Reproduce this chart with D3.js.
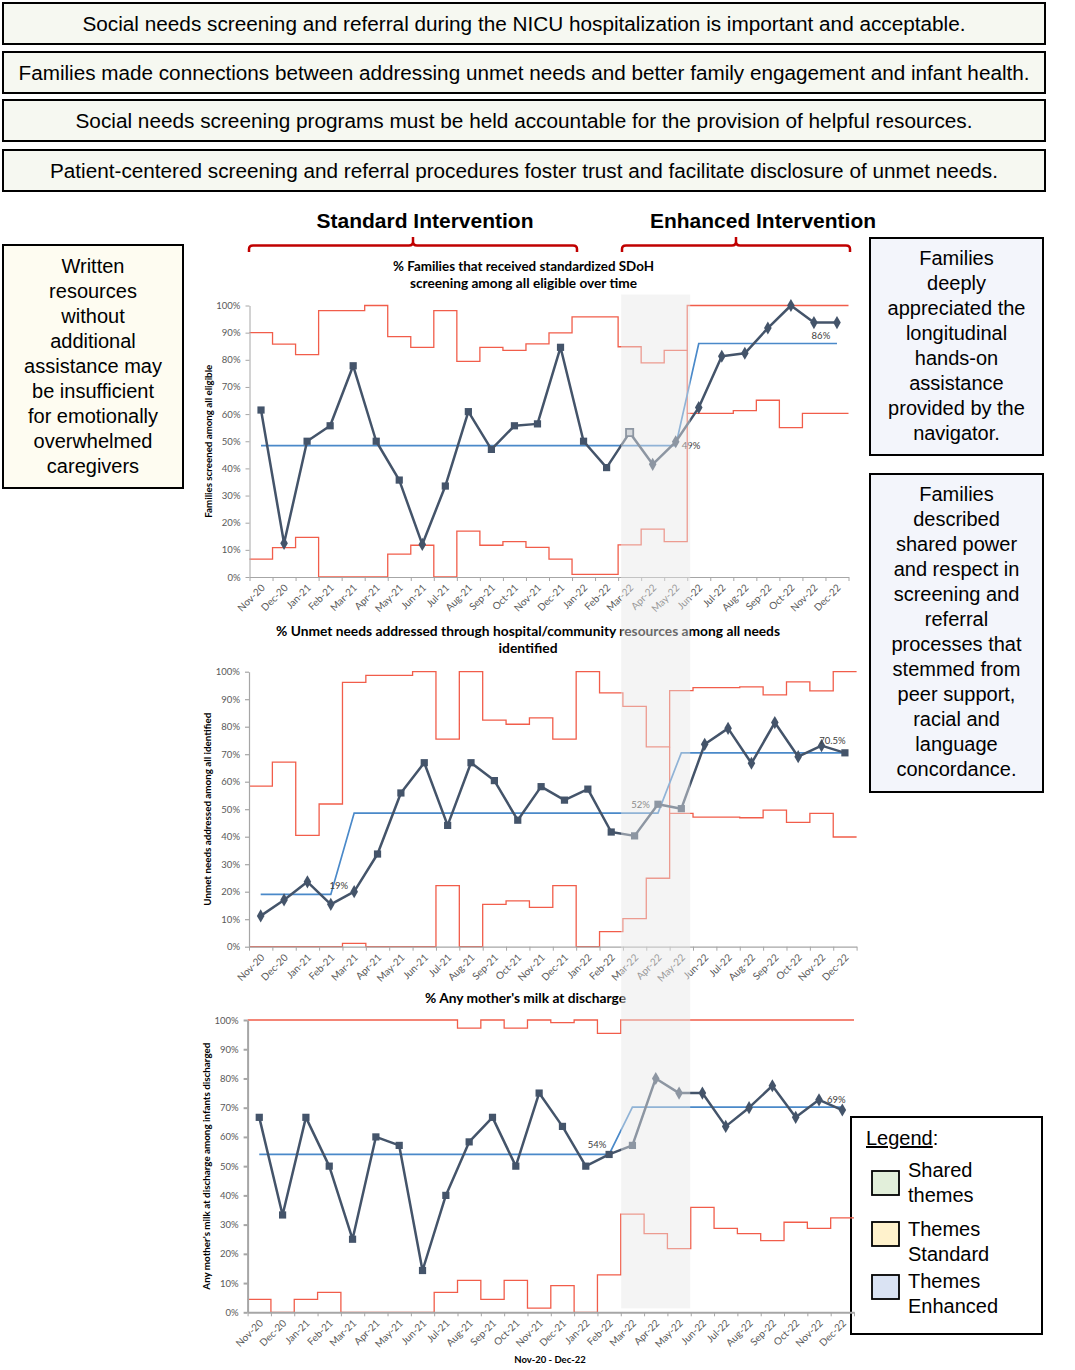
<!DOCTYPE html>
<html><head><meta charset="utf-8">
<script src="https://cdn.jsdelivr.net/npm/d3@7"></script>
<style>body{margin:0;background:#fff}</style>
</head><body>
<svg id="fig" width="1075" height="1370" xmlns="http://www.w3.org/2000/svg"></svg>
<script>
// ---------------- DATA ----------------
const months = ["Nov-20","Dec-20","Jan-21","Feb-21","Mar-21","Apr-21","May-21","Jun-21","Jul-21","Aug-21","Sep-21","Oct-21","Nov-21","Dec-21","Jan-22","Feb-22","Mar-22","Apr-22","May-22","Jun-22","Jul-22","Aug-22","Sep-22","Oct-22","Nov-22","Dec-22"];
const yTicks = [0,10,20,30,40,50,60,70,80,90,100];
const shadedMonths = ["Mar-22","Apr-22","May-22"];

// Chart 1: % families screened
const screenedTitle = ["% Families that received standardized SDoH","screening among all eligible over time"];
const screenedAxisTitle = "Families screened among all eligible";
const screenedValues = [61.5,12.4,50,55.7,77.8,50,35.7,12,33.5,60.9,47,55.7,56.4,84.6,50,40.3,53.2,41.5,49.8,62.4,81.3,82.4,91.7,100,93.7,93.7];
const screenedMarkers = ["sq","di","sq","sq","sq","sq","sq","di","sq","sq","sq","sq","sq","sq","sq","sq","open","di","di","di","di","di","di","di","di","di"];
const screenedUCL = [90,85.8,81.9,98.1,98.1,100,88.5,84.6,98.1,79.4,84.6,83.5,85.9,89.9,95.8,95.8,84.8,78.9,83.5,100,100,100,100,100,100,100];
const screenedLCL = [6.6,10.8,14.6,0,0,0,8.4,11.7,0,16.9,11.7,13.0,10.9,6.6,1.0,1.0,11.8,17.6,13.0,60.3,60.3,61.3,65.1,55.0,60.3,60.3];
const screenedCenter = [48.4,48.4,48.4,48.4,48.4,48.4,48.4,48.4,48.4,48.4,48.4,48.4,48.4,48.4,48.4,48.4,48.4,48.4,48.4,86,86,86,86,86,86,86];
const screenedLabels = [{text:"49%", month:"May-22", value:48.4},{text:"86%", month:"Nov-22", value:86}];
const screenedBridge = ["Jun-22"];

// Chart 2: % unmet needs addressed
const unmetTitle = ["% Unmet needs addressed through hospital/community resources among all needs","identified"];
const unmetAxisTitle = "Unmet needs addressed among all identified";
const unmetValues = [11.2,17.0,23.6,15.4,20.0,33.7,55.9,66.9,44.1,66.9,60.4,46.0,58.2,53.3,57.3,41.7,40.3,51.8,50.2,73.6,79.4,66.7,81.5,69.1,73.1,70.5];
const unmetMarkers = ["di","di","di","di","di","sq","sq","sq","sq","sq","sq","sq","sq","sq","sq","sq","sq","sq","sq","di","di","di","di","di","di","sq"];
const unmetUCL = [58.4,67.1,40.5,51.9,96.1,98.7,98.7,100,75.5,100,82.4,80.9,83.2,75.5,100,92.3,87.4,72.7,93.1,94.2,94.2,94.5,91.6,96.3,93.0,100];
const unmetLCL = [0,0,0,0,1.2,0,0,0,22.2,0,15.4,16.7,14.3,22.2,0,5.5,10.2,24.9,48.5,47.1,47.1,46.9,49.7,45.2,48.5,39.9];
const unmetCenter = [19,19,19,19,48.6,48.6,48.6,48.6,48.6,48.6,48.6,48.6,48.6,48.6,48.6,48.6,48.6,48.6,70.5,70.5,70.5,70.5,70.5,70.5,70.5,70.5];
const unmetLabels = [{text:"19%", month:"Feb-21", value:19},{text:"52%", month:"Apr-22", value:52},{text:"70.5%", month:"Nov-22", value:70.5}];
const unmetBridge = ["May-22"];

// Chart 3: % any mother's milk
const milkTitle = ["% Any mother's milk at discharge"];
const milkAxisTitle = "Any mother's milk at discharge among infants discharged";
const milkValues = [66.7,33.3,66.7,50,25,60,57.1,14.3,40,58.3,66.7,50,75,63.6,50,54,57.1,80,75,75,63.6,70,77.5,66.7,72.7,69.2];
const milkMarkers = ["sq","sq","sq","sq","sq","sq","sq","sq","sq","sq","sq","sq","sq","sq","sq","sq","sq","di","di","di","di","di","di","di","di","di"];
const milkUCL = [100,100,100,100,100,100,100,100,100,97.2,100,97.2,100,99.1,100,95.4,100,100,100,100,100,100,100,100,100,100];
const milkLCL = [4.4,0,4.4,6.8,0,0,0,0,6.8,10.9,4.4,10.9,1.4,9.1,0,12.8,33.6,26.9,21.8,35.9,28.7,26.9,24.5,30.8,28.7,32.3];
const milkCenter = [54,54,54,54,54,54,54,54,54,54,54,54,54,54,54,54,70.2,70.2,70.2,70.2,70.2,70.2,70.2,70.2,70.2,70.2];
const milkLabels = [{text:"54%", month:"Feb-22", value:54},{text:"69%", month:"Dec-22", value:69}];
const milkBridge = [];
const milkXAxisTitle = "Nov-20 - Dec-22";

// Text boxes
const sharedThemes = [
  "Social needs screening and referral during the NICU hospitalization is important and acceptable.",
  "Families made connections between addressing unmet needs and better family engagement and infant health.",
  "Social needs screening programs must be held accountable for the provision of helpful resources.",
  "Patient-centered screening and referral procedures foster trust and facilitate disclosure of unmet needs."
];
const standardTheme = ["Written","resources","without","additional","assistance may","be insufficient","for emotionally","overwhelmed","caregivers"];
const enhancedTheme1 = ["Families","deeply","appreciated the","longitudinal","hands-on","assistance","provided by the","navigator."];
const enhancedTheme2 = ["Families","described","shared power","and respect in","screening and","referral","processes that","stemmed from","peer support,","racial and","language","concordance."];
const phaseHeadings = ["Standard Intervention","Enhanced Intervention"];
const legendItems = [{lines:["Shared","themes"], key:"shared"},{lines:["Themes","Standard"], key:"standard"},{lines:["Themes","Enhanced"], key:"enhanced"}];

// ---------------- STYLE / LAYOUT ----------------
const C = {
  line:"#44546a", limit:"#f15d4a", center:"#4a89c9", axis:"#a6a6a6", tick:"#595959", label:"#404040",
  shared:"#f6f8f1", standard:"#fefcf1", enhanced:"#f3f5fb",
  swShared:"#e2efda", swStandard:"#fff2cc", swEnhanced:"#dae3f3", bracket:"#c00000"
};
const SANS = "'Liberation Sans', Arial, sans-serif";
const CHART_FONT = "Lato, Carlito, Calibri, sans-serif";

const svg = d3.select("#fig");

// top shared boxes
const topBoxes = [{y:3,tl:883},{y:52,tl:1011},{y:100,tl:897},{y:150,tl:948}];
sharedThemes.forEach((t,i)=>{
  const b = topBoxes[i];
  svg.append("rect").attr("x",3).attr("y",b.y).attr("width",1042).attr("height",41)
    .attr("fill",C.shared).attr("stroke","#000").attr("stroke-width",2);
  svg.append("text").attr("x",524).attr("y",b.y+28).attr("text-anchor","middle")
    .attr("font-family",SANS).attr("font-size",20).attr("textLength",b.tl).attr("lengthAdjust","spacingAndGlyphs")
    .text(t);
});

// phase headings + brackets
const headPos = [{cx:425, x0:249, x1:577, xc:413, tl:217},{cx:763, x0:622, x1:850, xc:736, tl:226}];
phaseHeadings.forEach((h,i)=>{
  const p = headPos[i];
  svg.append("text").attr("x",p.cx).attr("y",228).attr("text-anchor","middle")
    .attr("font-family",SANS).attr("font-weight","bold").attr("font-size",20)
    .attr("textLength",p.tl).attr("lengthAdjust","spacingAndGlyphs").text(h);
  const yb = 245.5;
  const path = `M${p.x0},252 V249 Q${p.x0},${yb} ${p.x0+4},${yb} H${p.xc-4} Q${p.xc},${yb} ${p.xc},${yb-4} V237 M${p.xc},${yb-4} Q${p.xc},${yb} ${p.xc+4},${yb} H${p.x1-4} Q${p.x1},${yb} ${p.x1},249 V252`;
  svg.append("path").attr("d",path).attr("fill","none").attr("stroke",C.bracket).attr("stroke-width",2.5);
});

// side boxes
function textBox(x,y,w,h,fill,lines,firstBaseline){
  svg.append("rect").attr("x",x).attr("y",y).attr("width",w).attr("height",h)
    .attr("fill",fill).attr("stroke","#000").attr("stroke-width",2);
  lines.forEach((l,i)=>{
    svg.append("text").attr("x",x+w/2).attr("y",firstBaseline+i*25).attr("text-anchor","middle")
      .attr("font-family",SANS).attr("font-size",20).text(l);
  });
}
textBox(3,245,180,243,C.standard,standardTheme,273);
textBox(870,238,173,217,C.enhanced,enhancedTheme1,265);
textBox(870,474,173,318,C.enhanced,enhancedTheme2,501);

// legend
svg.append("rect").attr("x",851).attr("y",1117).attr("width",191).attr("height",217)
  .attr("fill","#fff").attr("stroke","#000").attr("stroke-width",2);
svg.append("text").attr("x",866).attr("y",1145).attr("font-family",SANS).attr("font-size",20)
  .call(t=>{t.append("tspan").attr("text-decoration","underline").text("Legend");t.append("tspan").text(":");});
const swatchColor = {shared:C.swShared, standard:C.swStandard, enhanced:C.swEnhanced};
const legendY = [1171,1222,1275];
const legendTextY = [1177,1236,1288];
legendItems.forEach((it,i)=>{
  svg.append("rect").attr("x",872).attr("y",legendY[i]).attr("width",27).attr("height",24)
    .attr("fill",swatchColor[it.key]).attr("stroke","#000").attr("stroke-width",1.8);
  it.lines.forEach((l,j)=>{
    svg.append("text").attr("x",908).attr("y",legendTextY[i]+j*25).attr("font-family",SANS).attr("font-size",20).text(l);
  });
});

// ---------------- CHARTS ----------------
function drawChart(cfg){
  const g = svg.append("g");
  const x = d3.scaleBand().domain(months).range([cfg.x0,cfg.x1]).padding(0);
  const xi = d3.scaleLinear().domain([0,months.length]).range([cfg.x0,cfg.x1]);
  const y = d3.scaleLinear().domain([0,100]).range([cfg.yB,cfg.yT]);
  const cx = m => x(m)+x.bandwidth()/2;

  // title
  cfg.title.forEach((t,i)=>{
    g.append("text").attr("x",cfg.titleX).attr("y",cfg.titleY+i*17).attr("text-anchor","middle")
      .attr("font-family",CHART_FONT).attr("font-weight","bold").attr("font-size",13.2).attr("fill","#000")
      .attr("textLength",cfg.titleLen[i]).attr("lengthAdjust","spacingAndGlyphs").text(t);
  });
  // y axis title
  g.append("text").attr("transform",`translate(${cfg.x0-38},${(cfg.yT+cfg.yB)/2}) rotate(-90)`)
    .attr("text-anchor","middle").attr("font-family",CHART_FONT).attr("font-weight","bold").attr("font-size",9.4)
    .attr("textLength",cfg.axisTitleLen).attr("lengthAdjust","spacingAndGlyphs")
    .attr("fill","#000").text(cfg.axisTitle);

  // limits (step)
  const stepPts = arr => arr.flatMap((v,i)=>[[xi(i),y(v)],[xi(i+1),y(v)]]);
  const ln = d3.line();
  [cfg.ucl,cfg.lcl].forEach(arr=>{
    g.append("path").attr("d",ln(stepPts(arr))).attr("fill","none").attr("stroke",C.limit).attr("stroke-width",1.3);
  });
  cfg.bridge.forEach(m=>{
    const i = months.indexOf(m);
    g.append("path").attr("d",ln([[xi(i),y(cfg.lcl[i])],[xi(i),y(cfg.ucl[i-1])]]))
      .attr("stroke",C.limit).attr("stroke-width",1.3);
  });

  // axes
  const ya = g.append("g").attr("transform",`translate(${cfg.x0},0)`)
    .call(d3.axisLeft(y).tickValues(yTicks).tickSize(4).tickSizeOuter(0).tickPadding(5).tickFormat(d=>d+"%"));
  ya.selectAll("text").attr("font-family",CHART_FONT).attr("font-size",9.5).attr("fill",C.tick);
  ya.selectAll("line,path").attr("stroke",C.axis).attr("stroke-width",cfg.axisW);

  const xa = g.append("g").attr("transform",`translate(0,${cfg.yB})`)
    .call(d3.axisBottom(xi).tickValues(d3.range(0,months.length+1)).tickSize(4).tickSizeOuter(0).tickFormat(""));
  xa.selectAll("line").attr("stroke",C.axis).attr("stroke-width",1);
  xa.select(".domain").attr("stroke",C.axis).attr("stroke-width",cfg.axisW);

  const xl = g.append("g").attr("transform",`translate(0,${cfg.yB})`)
    .call(d3.axisBottom(x).tickSize(0).tickPadding(0));
  xl.select(".domain").remove();
  xl.selectAll("text").attr("font-family",CHART_FONT).attr("font-size",10).attr("fill",C.tick)
    .attr("text-anchor","end").attr("x",0).attr("y",0).attr("dy","0.35em")
    .attr("transform","translate(2,9) rotate(-45)");

  // centre line
  g.append("path").attr("d",d3.line().x((d,i)=>cx(months[i])).y(d=>y(d))(cfg.center))
    .attr("fill","none").attr("stroke",C.center).attr("stroke-width",1.7);

  // data line
  g.append("path").attr("d",d3.line().x((d,i)=>cx(months[i])).y(d=>y(d))(cfg.values))
    .attr("fill","none").attr("stroke",C.line).attr("stroke-width",2.5).attr("stroke-linejoin","round");

  // markers
  const sq = d3.symbol().type(d3.symbolSquare).size(52);
  const di = d3.symbol().type(d3.symbolDiamond).size(50);
  cfg.values.forEach((v,i)=>{
    const t = cfg.markers[i];
    const p = g.append("path").attr("transform",`translate(${cx(months[i])},${y(v)})`);
    if(t==="di") p.attr("d",di()).attr("fill",C.line);
    else if(t==="open") p.attr("d",sq()).attr("fill","#c9ced6").attr("stroke",C.line).attr("stroke-width",1.8);
    else p.attr("d",sq()).attr("fill",C.line);
  });

  // data labels
  cfg.labels.forEach((l,i)=>{
    const pl = cfg.labelPlace[i];
    g.append("text").attr("x",cx(l.month)+pl.dx).attr("y",y(l.value)+pl.dy).attr("text-anchor",pl.anchor)
      .attr("font-family",CHART_FONT).attr("font-size",9.5).attr("fill",C.label).text(l.text);
  });
  return {xi, y};
}

const c1 = drawChart({x0:249.5,x1:848.5,yT:305.5,yB:577,axisW:1,titleX:523.5,titleY:271,titleLen:[261,227],
  title:screenedTitle,axisTitle:screenedAxisTitle,axisTitleLen:153,values:screenedValues,markers:screenedMarkers,
  ucl:screenedUCL,lcl:screenedLCL,center:screenedCenter,bridge:screenedBridge,labels:screenedLabels,
  labelPlace:[{dx:6,dy:3.5,anchor:"start"},{dx:7,dy:-5,anchor:"middle"}]});

const c2 = drawChart({x0:249,x1:856.6,yT:671.7,yB:946.7,axisW:1.2,titleX:528,titleY:636,titleLen:[504,59],
  title:unmetTitle,axisTitle:unmetAxisTitle,axisTitleLen:193,values:unmetValues,markers:unmetMarkers,
  ucl:unmetUCL,lcl:unmetLCL,center:unmetCenter,bridge:unmetBridge,labels:unmetLabels,
  labelPlace:[{dx:8,dy:-5,anchor:"middle"},{dx:-8,dy:4,anchor:"end"},{dx:11,dy:-9,anchor:"middle"}]});

const c3 = drawChart({x0:247.6,x1:854,yT:1020,yB:1312.3,axisW:2,titleX:525.5,titleY:1003,titleLen:[201],
  title:milkTitle,axisTitle:milkAxisTitle,axisTitleLen:247,values:milkValues,markers:milkMarkers,
  ucl:milkUCL,lcl:milkLCL,center:milkCenter,bridge:milkBridge,labels:milkLabels,
  labelPlace:[{dx:-12,dy:-6.5,anchor:"middle"},{dx:-6,dy:-7.5,anchor:"middle"}]});

svg.append("text").attr("x",550).attr("y",1363).attr("text-anchor","middle").attr("font-family",CHART_FONT)
  .attr("font-weight","bold").attr("font-size",9.5).text(milkXAxisTitle);

// shaded transition overlay spanning all three charts
const s0 = months.indexOf(shadedMonths[0]), s1 = months.indexOf(shadedMonths[shadedMonths.length-1])+1;
svg.append("rect").attr("x",c1.xi(s0)+3).attr("y",c1.y(100)-11)
  .attr("width",c1.xi(s1)-c1.xi(s0)).attr("height",c3.y(0)-4-(c1.y(100)-11))
  .attr("fill","#e6e6e6").attr("fill-opacity",0.45);
</script>
</body></html>
